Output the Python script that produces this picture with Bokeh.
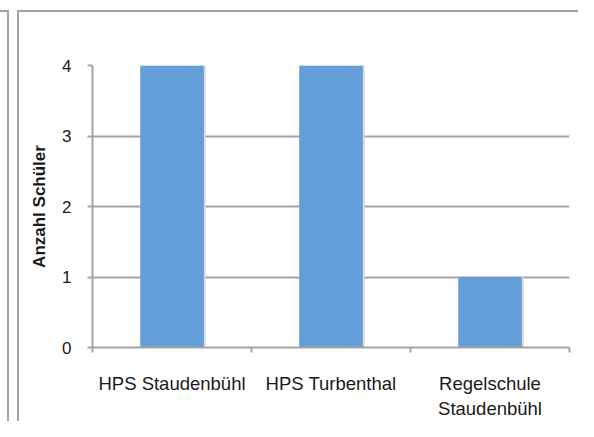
from bokeh.plotting import figure
from bokeh.models import Range1d, FixedTicker, LinearAxis
from bokeh.embed import file_html
from bokeh.resources import INLINE

# Data
categories = ["HPS Staudenbühl", "HPS Turbenthal", "Regelschule\nStaudenbühl"]
values = [4, 4, 1]
y_ticks = [0, 1, 2, 3, 4]
y_label = "Anzahl Schüler"

positions = [i + 0.5 for i in range(len(categories))]
boundaries = [float(i) for i in range(len(categories) + 1)]

GRAY = "#A3A3A3"
FONT = "Liberation Sans"

p = figure(width=578, height=421, output_backend="svg", toolbar_location=None,
           x_range=Range1d(0, len(categories)), y_range=Range1d(0, 4),
           x_axis_location=None, y_axis_location=None,
           min_border_left=92, min_border_right=9, min_border_top=65, min_border_bottom=74)
p.outline_line_color = None
p.background_fill_color = "white"
p.border_fill_color = None

# document frame lines drawn as host background (behind the transparent canvas border)
vert = f"linear-gradient(to right, {GRAY} 0px, {GRAY} 2px, transparent 2px)"
horiz = f"linear-gradient(to bottom, transparent 10px, {GRAY} 10px, {GRAY} 12px, transparent 12px)"
p.styles = {
    "background-color": "white",
    "background-image": ", ".join([horiz, vert, horiz, vert]),
    "background-position": "0px 0px, 7px 10px, 17px 0px, 17px 10px",
    "background-size": "9px 12px, 2px 430px, 600px 12px, 2px 430px",
    "background-repeat": "no-repeat",
}

# bar shadow + bars
p.vbar(x=[x + 0.012 for x in positions], top=values, width=0.4, bottom=0,
       fill_color="#D8D8D8", line_color=None)
p.vbar(x=positions, top=values, width=0.4, bottom=0,
       fill_color="#639ED9", line_color=None)

# y axis
yax = LinearAxis(ticker=FixedTicker(ticks=y_ticks))
yax.axis_line_color = GRAY
yax.axis_line_width = 2
yax.major_tick_line_color = GRAY
yax.major_tick_line_width = 2
yax.major_tick_out = 5
yax.major_tick_in = 0
yax.minor_tick_line_color = None
yax.major_label_text_font = FONT
yax.major_label_text_font_size = "17px"
yax.major_label_text_color = "#1a1a1a"
yax.major_label_standoff = 16
yax.axis_label = y_label
yax.axis_label_text_font = FONT
yax.axis_label_text_font_style = "bold"
yax.axis_label_text_font_size = "17px"
yax.axis_label_text_color = "#1a1a1a"
yax.axis_label_standoff = 10
p.add_layout(yax, "left")

# x axis
xax = LinearAxis(ticker=FixedTicker(ticks=positions, minor_ticks=boundaries))
xax.major_label_overrides = {pos: cat for pos, cat in zip(positions, categories)}
xax.axis_line_color = GRAY
xax.axis_line_width = 2
xax.major_tick_line_color = None
xax.major_tick_out = 0
xax.major_tick_in = 0
xax.minor_tick_line_color = GRAY
xax.minor_tick_line_width = 2
xax.minor_tick_out = 5
xax.minor_tick_in = 0
xax.major_label_text_font = FONT
xax.major_label_text_font_size = "18.5px"
xax.major_label_text_color = "#1a1a1a"
xax.major_label_standoff = 20
p.add_layout(xax, "below")

p.xgrid.visible = False
p.ygrid.ticker = FixedTicker(ticks=y_ticks[1:])
p.ygrid.grid_line_color = GRAY
p.ygrid.grid_line_width = 2

open("out.html", "w").write(file_html(p, INLINE))
